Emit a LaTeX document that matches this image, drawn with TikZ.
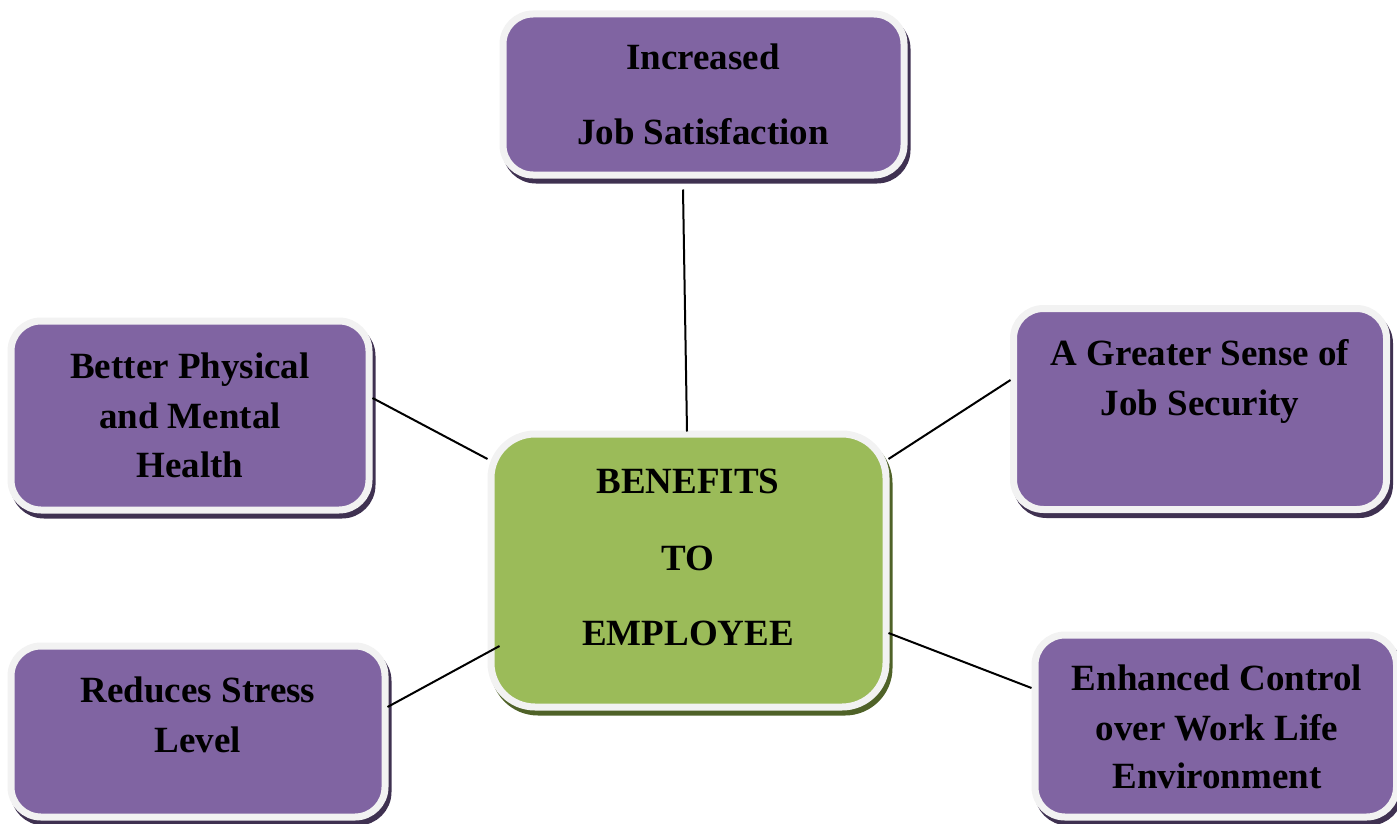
\documentclass[tikz,border=0pt]{standalone}
\usepackage{fontspec}
\setmainfont{Liberation Serif}
\usetikzlibrary{calc}
\definecolor{purp}{HTML}{8064A2}
\definecolor{purpshade}{HTML}{3F3151}
\definecolor{grn}{HTML}{9BBB59}
\definecolor{grnshade}{HTML}{4F6228}
\definecolor{rim}{HTML}{F2F2F2}
\tikzset{
  box/.style={rectangle, inner sep=0pt, draw=rim, line width=3.5pt, rounded corners=15pt},
  pbox/.style={box, fill=purp,
    preaction={fill=purpshade, draw=purpshade, line width=3.5pt, transform canvas={shift={(1.5pt,-2.5pt)}}}},
  gbox/.style={box, fill=grn, rounded corners=22pt,
    preaction={fill=grnshade, draw=grnshade, line width=3.5pt, transform canvas={shift={(1.5pt,-2.5pt)}}}},
  txt/.style={anchor=base, inner sep=0pt, font=\fontsize{18.5}{22}\selectfont\bfseries},
  link/.style={draw=black, line width=1pt}
}
\begin{document}
\begin{tikzpicture}[x=0.5pt, y=-0.5pt]
\useasboundingbox (0,0) rectangle (1397,824);
% boxes
\node[pbox, minimum width=200.5pt, minimum height=80.5pt] (top) at (703.5,94.5) {};
\node[gbox, minimum width=197.5pt, minimum height=136.5pt] (ctr) at (688.5,570.5) {};
\node[pbox, minimum width=179pt, minimum height=94.5pt] (left) at (190,415.5) {};
\node[pbox, minimum width=186.5pt, minimum height=100.5pt] (right) at (1200,409) {};
\node[pbox, minimum width=187pt, minimum height=85.5pt] (bl) at (198,731.5) {};
\node[pbox, minimum width=180.75pt, minimum height=91pt] (br) at (1215.75,726) {};
% texts
\node[txt] (top1) at (703,70) {Increased};
\node[txt] (top2) at (703,145) {Job Satisfaction};
\node[txt] (ctr1) at (688,493) {BENEFITS};
\node[txt] (ctr2) at (688,570) {TO};
\node[txt] (ctr3) at (688,645) {EMPLOYEE};
\node[txt] (left1) at (190,378) {Better Physical};
\node[txt] (left2) at (190,428) {and Mental};
\node[txt] (left3) at (190,477) {Health};
\node[txt] (right1) at (1200,365) {A Greater Sense of};
\node[txt] (right2) at (1200,415) {Job Security};
\node[txt] (bl1) at (198,702) {Reduces Stress};
\node[txt] (bl2) at (198,752) {Level};
\node[txt] (br1) at (1217,690) {Enhanced Control};
\node[txt] (br2) at (1217,740) {over Work Life};
\node[txt] (br3) at (1217,788) {Environment};
% connectors
\draw[link] ($(top.south)+(-20.5,11)$) -- ($(ctr.north)+(-1.5,1)$);
\draw[link] ($(left.east)+(0,-17.5)$) -- ($(ctr.west)+(0,-111.5)$);
\draw[link] ($(ctr.east)+(-1,-111.5)$) -- ($(right.west)+(0.5,-29)$);
\draw[link] ($(bl.east)+(-1,-24.5)$) -- ($(ctr.west)+(12,75.5)$);
\draw[link] ($(ctr.east)+(-1,62.5)$) -- ($(br.west)+(0,-38)$);
\end{tikzpicture}
\end{document}
